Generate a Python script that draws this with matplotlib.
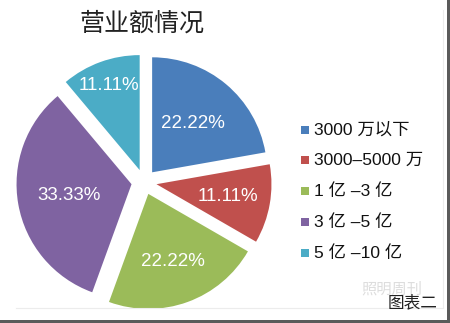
import matplotlib
matplotlib.use("Agg")
import matplotlib.pyplot as plt
from matplotlib.patches import Rectangle
import numpy as np

plt.rcParams['font.family'] = ['Liberation Sans', 'Noto Sans CJK SC', 'DejaVu Sans']

title = "营业额情况"
categories = ["3000 万以下", "3000–5000 万", "1 亿 –3 亿", "3 亿 –5 亿", "5 亿 –10 亿"]
shares = [22.22, 11.11, 22.22, 33.33, 11.11]
colors = ["#4A7EBB", "#C0504D", "#9BBB59", "#7F63A1", "#4BACC6"]
label_dist = [0.55, 0.63, 0.63, 0.55, 0.78]

W, H = 450, 323
fig = plt.figure(figsize=(W / 100, H / 100), dpi=100)
fig.patch.set_facecolor("white")

# pie axes: centre at (144, 182) px, radius 115 px
cx, cy, r = 144, 182, 115
ax = fig.add_axes([0, 0, 1, 1])

wedges, _ = ax.pie(shares, colors=colors, startangle=90, counterclock=False,
                   explode=[0.11] * len(shares), radius=1.0,
                   wedgeprops=dict(linewidth=0))
ax.set_aspect("auto")
ax.set_xlim(-cx / r, (W - cx) / r)
ax.set_ylim(-(H - cy) / r, cy / r)
ax.axis("off")

for w, v, d in zip(wedges, shares, label_dist):
    mid = np.deg2rad((w.theta1 + w.theta2) / 2)
    x0, y0 = w.center
    ax.text(x0 + d * np.cos(mid), y0 + d * np.sin(mid), f"{v:.2f}%",
            color="white", fontsize=13.5, ha="center", va="center")

# title
fig.text(142 / W, 1 - 24 / H, title, fontsize=18, color="#222222",
         ha="center", va="center")

# legend
rows_y = [130, 160, 191, 222, 253]
for c, lab, y in zip(colors, categories, rows_y):
    fig.patches.append(Rectangle((301 / W, 1 - (y + 4) / H), 8 / W, 8 / H,
                                 transform=fig.transFigure, facecolor=c,
                                 edgecolor="none", zorder=5))
    fig.text(314 / W, 1 - y / H, lab, fontsize=12.5, color="#111111",
             ha="left", va="center")

# caption and watermark
fig.text(392 / W, 1 - 289 / H, "照明周刊", fontsize=11, color="#dddddd",
         ha="center", va="center")
fig.text(413 / W, 1 - 302 / H, "图表二", fontsize=12, color="#222222",
         ha="center", va="center")

# faint inner frame and dark outer border
fig.lines.append(plt.Line2D([443 / W, 443 / W], [1 - 10 / H, 1 - 308 / H],
                            transform=fig.transFigure, color="#ececec", lw=0.8))
fig.lines.append(plt.Line2D([16 / W, 443 / W], [1 - 308 / H, 1 - 308 / H],
                            transform=fig.transFigure, color="#ececec", lw=0.8))
fig.patches.append(Rectangle((447 / W, 0), 3 / W, 1, transform=fig.transFigure,
                             facecolor="#5a5a5a", edgecolor="none", zorder=5))
fig.patches.append(Rectangle((0, 0), 1, 3 / H, transform=fig.transFigure,
                             facecolor="#5a5a5a", edgecolor="none", zorder=5))

fig.savefig("out.png", dpi=100)
